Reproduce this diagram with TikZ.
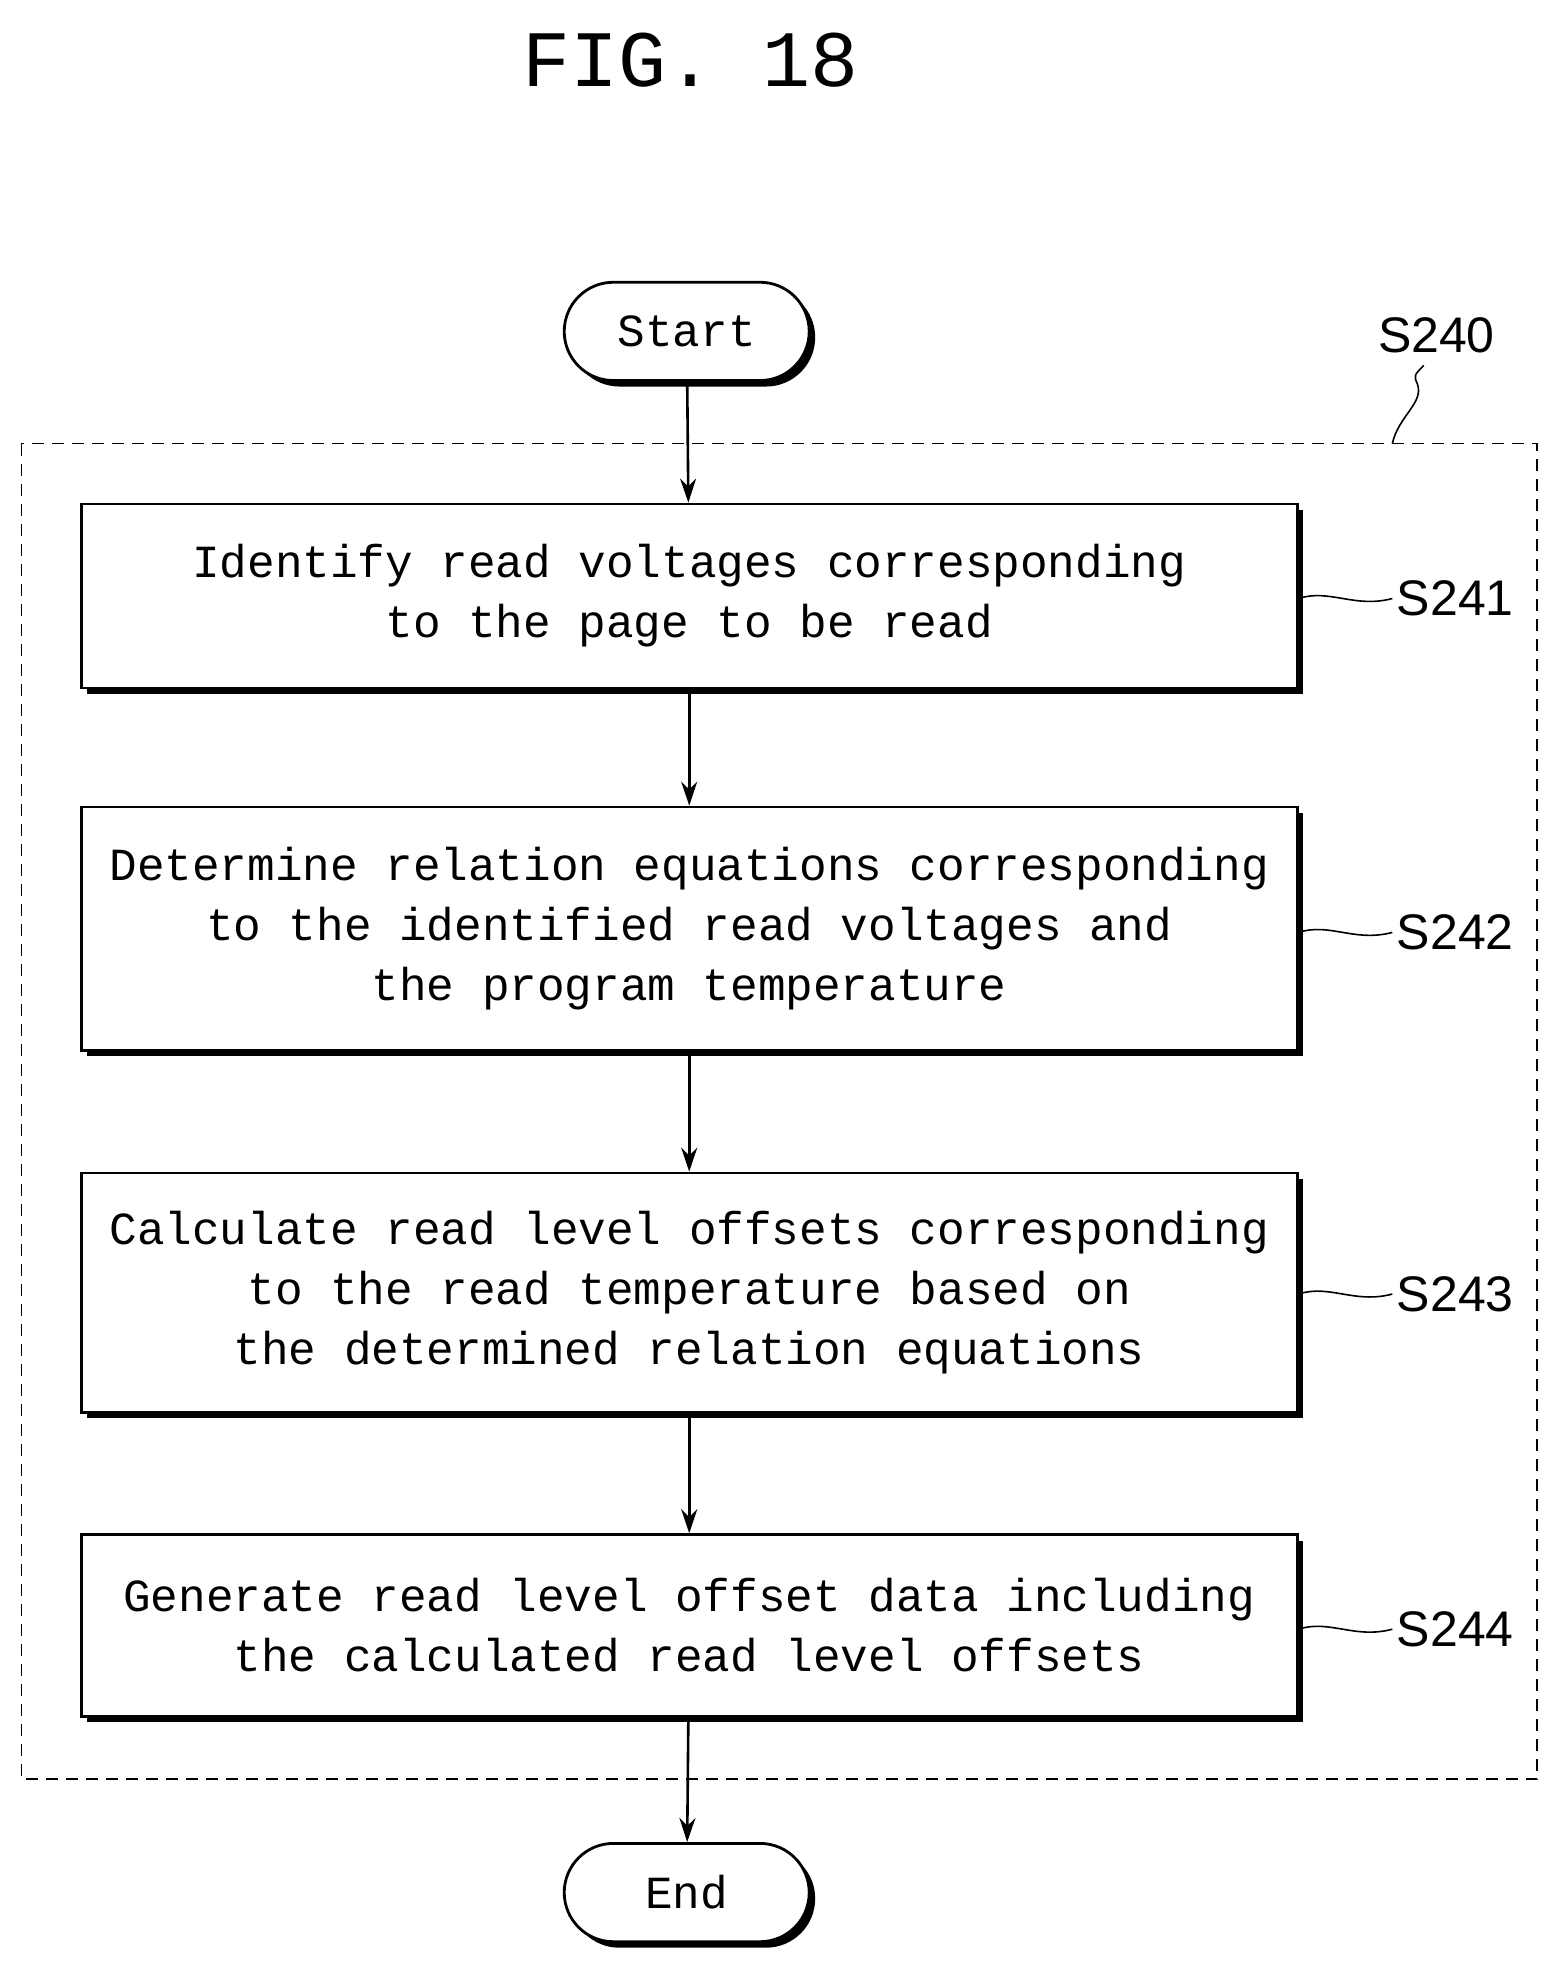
\documentclass[tikz,border=0pt]{standalone}
\usepackage{fontspec}
\setmainfont{Liberation Mono}
\newfontfamily\lsans{Liberation Sans}
\usetikzlibrary{shadows,arrows.meta,shapes.misc}
\begin{document}
\begin{tikzpicture}[x=0.63pt,y=-0.63pt,
  box/.style={draw,line width=1.4pt,fill=white,minimum width=965*0.63pt,align=center,
    font=\fontsize{23}{30}\selectfont,
    drop shadow={shadow xshift=3pt,shadow yshift=-3pt,opacity=1,fill=black}},
  term/.style={draw,line width=1.4pt,fill=white,rounded rectangle,minimum width=205*0.63pt,
    font=\fontsize{23}{30}\selectfont,
    drop shadow={shadow xshift=3pt,shadow yshift=-3pt,opacity=1,fill=black}},
  lab/.style={font=\lsans\fontsize{25}{30}\selectfont},
  arr/.style={-{Stealth[length=12pt,width=8pt]},line width=1.3pt},
  sq/.style={line width=0.8pt}]
\useasboundingbox (0,0) rectangle (1240,1573);
\node (title) at (548,48) {\fontsize{40}{44}\selectfont FIG. 18};
\draw[dashed,line width=0.8pt,dash pattern=on 6pt off 4pt] (17,352) rectangle (1220,1412);
\node[term,minimum height=78*0.63pt] (start) at (545,263) {Start};
\node[box,minimum height=146*0.63pt] (b1) at (547,473) {Identify read voltages corresponding\\to the page to be read};
\node[box,minimum height=193*0.63pt] (b2) at (547,737) {Determine relation equations corresponding\\to the identified read voltages and\\the program temperature};
\node[box,minimum height=190*0.63pt] (b3) at (547,1026) {Calculate read level offsets corresponding\\to the read temperature based on\\the determined relation equations};
\node[box,minimum height=144*0.63pt] (b4) at (547,1290) {Generate read level offset data including\\the calculated read level offsets};
\node[term,minimum height=78*0.63pt] (end) at (545,1502) {End};
\draw[arr] (start) -- (b1);
\draw[arr] (b1) -- (b2);
\draw[arr] (b2) -- (b3);
\draw[arr] (b3) -- (b4);
\draw[arr] (b4) -- (end);
\node[lab] (s240) at (1140,266) {S240};
\coordinate (c0) at (1105,352);
\draw[sq] (c0) .. controls (1110,330) and (1130,320) .. (1125,305) .. controls (1122,298) .. (1130,290);
\foreach \n/\y/\b in {S241/475/b1,S242/740/b2,S243/1027/b3,S244/1293/b4}{
  \node[lab] (l\n) at (1155,\y) {\n};
  \draw[sq] (\b.east |- 0,\y) .. controls (1055,\y-8) and (1075,\y+8) .. (1105,\y);
}
\end{tikzpicture}
\end{document}
